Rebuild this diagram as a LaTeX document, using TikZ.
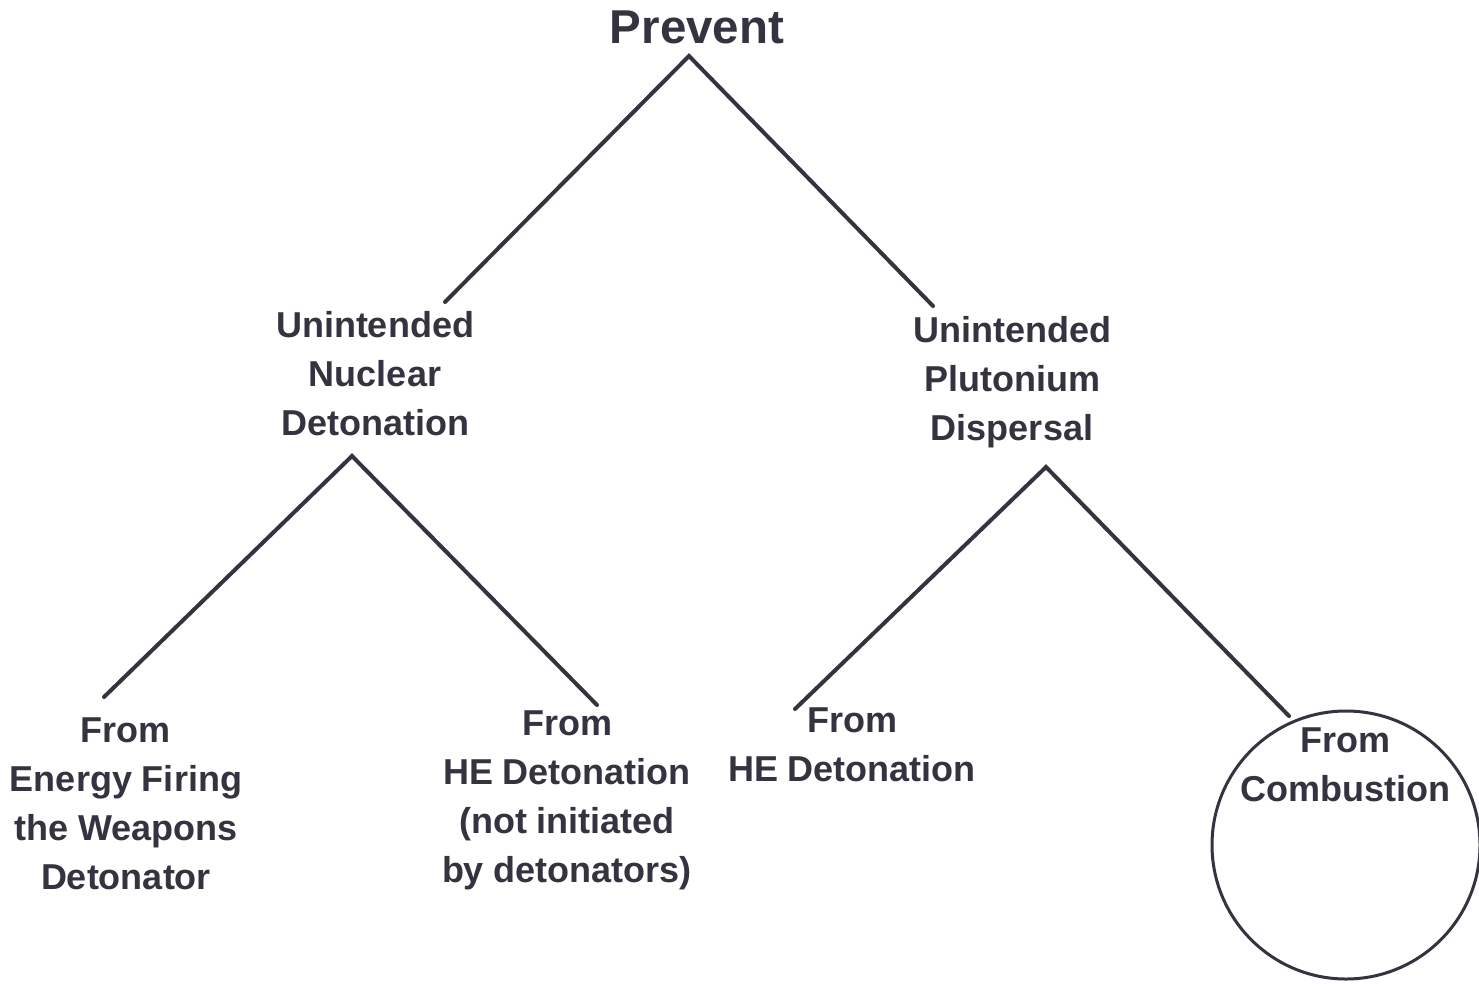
\documentclass[tikz,border=0pt]{standalone}
\usepackage{fontspec}
\setmainfont{Liberation Sans}
\definecolor{ink}{RGB}{52,52,64}
\begin{document}
\begin{tikzpicture}[x=1pt,y=-1pt,
  lbl/.style={inner sep=0pt, anchor=north, align=center, text=ink,
    font={\bfseries\fontsize{36}{49}\selectfont}},
  branch/.style={draw=ink, line width=4pt, line cap=round, line join=miter},
  ring/.style={circle, draw=ink, line width=3pt, minimum size=268pt, inner sep=0pt}]
\useasboundingbox (0,0) rectangle (1479,983);
\fill[white] (0,0) rectangle (1479,983);
% texts (node top = first baseline - 40)
\node[inner sep=0pt, anchor=north, text=ink, font={\bfseries\fontsize{47.5}{56}\selectfont}] (prevent) at (697,-2) {\rule{0pt}{45pt}Prevent};
\node[lbl] (und) at (375,297) {\rule{0pt}{40pt}Unintended\\Nuclear\\Detonation};
\node[lbl] (upd) at (1012,302) {\rule{0pt}{40pt}Unintended\\Plutonium\\Dispersal};
\node[lbl] (efd) at (126,702) {\rule{0pt}{40pt}From\\Energy Firing\\the Weapons\\Detonator};
\node[lbl] (hed1) at (567,695) {\rule{0pt}{40pt}From\\HE Detonation\\(not initiated\\by detonators)};
\node[lbl] (hed2) at (852,692) {\rule{0pt}{40pt}From\\HE Detonation};
\node[ring] (circ) at (1346,845) {};
\node[lbl] (comb) at (1345,712) {\rule{0pt}{40pt}From\\Combustion};
% branch points
\coordinate (a0) at (689,56);
\coordinate (a0l) at (445,302);
\coordinate (a0r) at (933,306);
\coordinate (a1) at (352,456);
\coordinate (a1l) at (104,697);
\coordinate (a1r) at (597,705);
\coordinate (a2) at (1046,467);
\coordinate (a2l) at (795,709);
\coordinate (a2r) at (1289,716);
\draw[branch] (a0l) -- (a0) -- (a0r);
\draw[branch] (a1l) -- (a1) -- (a1r);
\draw[branch] (a2l) -- (a2) -- (a2r);
\end{tikzpicture}
\end{document}
